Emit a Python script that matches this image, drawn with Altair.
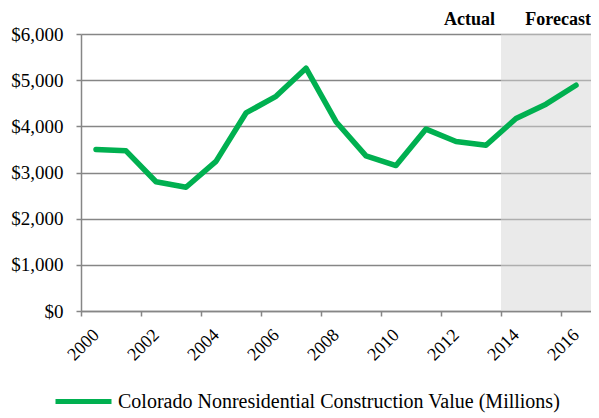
import altair as alt
import pandas as pd

years = [2000, 2001, 2002, 2003, 2004, 2005, 2006, 2007, 2008,
         2009, 2010, 2011, 2012, 2013, 2014, 2015, 2016]
values = [3500, 3470, 2800, 2680, 3240, 4290, 4650, 5260, 4100,
          3360, 3150, 3940, 3670, 3590, 4170, 4480, 4890]
forecast_years = [2014, 2015, 2016]
y_ticks = [0, 1000, 2000, 3000, 4000, 5000, 6000]
series_name = "Colorado Nonresidential Construction Value (Millions)"
period_labels = ["Actual", "Forecast"]

FONT = "Liberation Serif"
GREEN = "#00B050"
GRID = "#868686"
W, H = 510, 277

df = pd.DataFrame({"year": years, "value": values, "series": series_name})
lo = min(years) - 0.5
hi = max(years) + 0.5
boundaries = [y - 0.5 for y in years] + [hi]
shade = pd.DataFrame({"start": [min(forecast_years) - 0.5], "end": [max(forecast_years) + 0.5]})
labels_df = pd.DataFrame({
    "x": [min(forecast_years) - 0.5, max(forecast_years) + 0.5],
    "text": period_labels,
})

xscale = alt.Scale(domain=[lo, hi], nice=False, zero=False)
yscale = alt.Scale(domain=[0, 6000], nice=False)

band_px = W / len(years)

x_axis = alt.Axis(
    values=boundaries,
    labelExpr=f"((datum.value - {lo}) % 2 == 0) ? format(datum.value + 0.5, 'd') : ''",
    labelAngle=-45, labelAlign="right", labelBaseline="middle",
    labelOffset=band_px / 2, labelPadding=16, labelOverlap=False, labelFlush=False,
    grid=False, ticks=True, tickSize=5, tickColor=GRID, tickWidth=1.5,
    domainColor=GRID, domainWidth=1.5, title=None,
    labelFont=FONT, labelFontSize=18, labelColor="#000000",
)
y_axis = alt.Axis(
    values=y_ticks, format="$,.0f", grid=True, gridColor=GRID, gridWidth=1.5,
    ticks=True, tickSize=5, tickColor=GRID, tickWidth=1.5,
    domainColor=GRID, domainWidth=1.5, title=None, labelPadding=13,
    labelFont=FONT, labelFontSize=19, labelColor="#000000",
)

rect = alt.Chart(shade).mark_rect(color="#D6D6D6", opacity=0.5).encode(
    x=alt.X("start:Q", scale=xscale, axis=x_axis),
    x2="end:Q",
    y=alt.value(0),
    y2=alt.value(H),
)

line = alt.Chart(df).mark_line(strokeWidth=5.5, strokeCap="round", strokeJoin="round").encode(
    x=alt.X("year:Q", scale=xscale, axis=x_axis),
    y=alt.Y("value:Q", scale=yscale, axis=y_axis),
    color=alt.Color(
        "series:N",
        scale=alt.Scale(range=[GREEN]),
        legend=alt.Legend(
            title=None, orient="none", legendX=-28, legendY=337,
            symbolType="stroke", symbolSize=3136, symbolStrokeWidth=5,
            symbolStrokeColor=GREEN, labelOffset=4,
            labelFont=FONT, labelFontSize=20, labelColor="#000000",
            labelLimit=600, padding=0,
        ),
    ),
)

text_actual = alt.Chart(labels_df.iloc[[0]]).mark_text(
    font=FONT, fontSize=18, fontWeight="bold", align="right", baseline="alphabetic", color="#000000", dx=-6
).encode(x=alt.X("x:Q", scale=xscale), y=alt.value(-9), text="text:N")
text_forecast = alt.Chart(labels_df.iloc[[1]]).mark_text(
    font=FONT, fontSize=18, fontWeight="bold", align="right", baseline="alphabetic", color="#000000"
).encode(x=alt.X("x:Q", scale=xscale), y=alt.value(-9), text="text:N")

chart = alt.layer(rect, line, text_actual, text_forecast).properties(
    width=W, height=H,
    autosize=alt.AutoSizeParams(type="none"),
    padding={"left": 73, "top": 26, "right": 0, "bottom": 103},
).configure_view(stroke=None)

chart.save("out.html", embed_options={"renderer": "svg", "actions": False})
